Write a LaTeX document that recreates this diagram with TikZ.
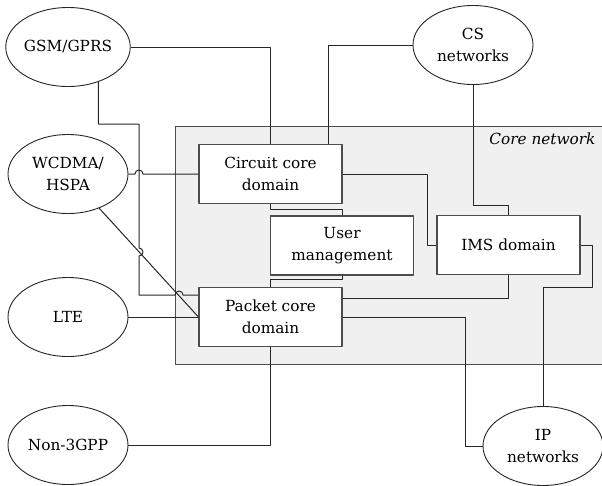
\documentclass[tikz,border=0pt]{standalone}
\usepackage{fontspec}
\setmainfont{DejaVu Serif}
\usetikzlibrary{shapes.geometric}
\tikzset{
	net/.style={ellipse, draw=black!85, line width=0.9pt, fill=white, minimum width=120pt, minimum height=79pt, inner sep=0pt, align=center},
	dom/.style={rectangle, draw=black!70, line width=1.1pt, fill=white, minimum width=143pt, minimum height=59pt, align=center},
	link/.style={draw=black!85, line width=1pt},
}
\begin{document}
\begin{tikzpicture}[x=1pt, y=-1pt, font=\fontsize{15.3}{22}\selectfont, line join=round]
		\useasboundingbox (0,0) rectangle (602,485);
		% core network area
		\draw[fill=black!6, draw=black!70, line width=1pt] (175,126) rectangle (615,364);
		\node[anchor=east, font=\fontsize{15.3}{22}\selectfont\itshape] (corelabel) at (599,139) {Core network};
		% access and external networks
		\node[net] (gsm) at (68,47) {GSM/GPRS};
		\node[net] (wcdma) at (68,174) {WCDMA/\\HSPA};
		\node[net] (lte) at (68,317) {LTE};
		\node[net] (non) at (68,445) {Non-3GPP};
		\node[net] (cs) at (473,45) {CS\\networks};
		\node[net] (ip) at (543,446) {IP\\networks};
		% domains
		\node[dom] (cc) at (270.5,174) {Circuit core\\domain};
		\node[dom] (um) at (342,245.5) {User\\management};
		\node[dom] (pc) at (270.5,317) {Packet core\\domain};
		\node[dom] (ims) at (508.5,245) {IMS domain};
		% connections
		\draw[link] (gsm.east) -| (cc.north);
		\draw[link] (gsm.-49) |- (139,124) -- (139,248) arc[start angle=90, end angle=-90, radius=4pt] -- (139,295) -- (175,295) arc[start angle=180, end angle=0, radius=4pt] -- ([yshift=22pt]pc.west);
		\draw[link] (wcdma.east) -- (135,174) arc[start angle=180, end angle=0, radius=4pt] -- (cc.west);
		\draw[link] (wcdma) -- (pc.west);
		\draw[link] (lte.east) -- (pc.west);
		\draw[link] (non.east) -| (pc.south);
		\draw[link] (cs.west) -| ([xshift=-14pt]cc.north east);
		\draw[link] (cs.south) |- ([yshift=9pt]ims.north) -- (ims.north);
		\draw[link] (cc.east) -| ([xshift=-9pt]ims.west) -- (ims.west);
		\draw[link] (cc.south) -- ++(0,5) -| (um.north);
		\draw[link] (um.south) -- ++(0,4) -| (pc.north);
		\draw[link] ([yshift=19pt]pc.east) -| (ims.south);
		\draw[link] (pc.east) -| ([xshift=-17pt]ip.west) -- (ip.west);
		\draw[link] (ims.east) -- ++(12,0) -- ++(0,42) -| (ip.north);
	\end{tikzpicture}
\end{document}
